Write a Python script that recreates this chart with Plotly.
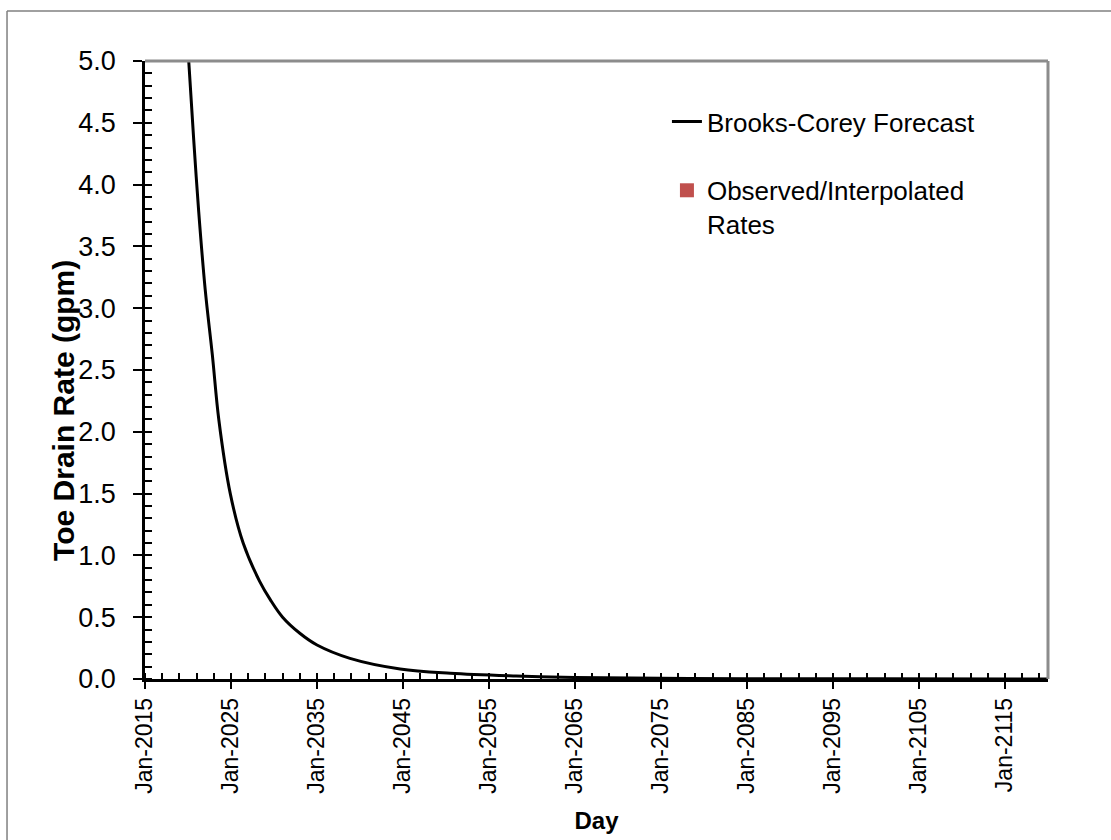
import plotly.graph_objects as go

# Brooks-Corey toe drain forecast (dates, gpm)
forecast_dates = [
    "2019-07-01", "2020-02-01", "2020-09-01", "2021-04-01", "2022-01-01",
    "2022-11-01", "2023-08-01", "2024-12-01", "2026-06-01", "2028-05-01",
    "2029-08-01", "2031-01-01", "2033-01-01", "2035-01-01", "2038-11-01",
    "2044-09-01", "2050-07-01", "2058-03-01", "2065-01-01", "2075-01-01",
    "2085-01-01", "2100-01-01", "2120-01-01",
]
forecast_rates = [
    5.75, 5.00, 4.36, 3.78, 3.15,
    2.62, 2.10, 1.50, 1.10, 0.79,
    0.64, 0.50, 0.37, 0.275, 0.167,
    0.081, 0.046, 0.024, 0.012, 0.006,
    0.003, 0.0015, 0.0008,
]

# Observed / interpolated rates (none fall inside the plotted window)
observed_dates = []
observed_rates = []

x_range = ["2015-01-01", "2120-01-01"]
y_range = [0, 5]

FONT = "Arial, Liberation Sans, sans-serif"

fig = go.Figure()
fig.add_trace(go.Scatter(
    x=forecast_dates, y=forecast_rates, mode="lines",
    line=dict(color="black", width=3, shape="spline", smoothing=1.0),
    name="Brooks-Corey Forecast", legendgroup="a",
))
fig.add_trace(go.Scatter(
    x=observed_dates or [None], y=observed_rates or [None], mode="markers",
    marker=dict(color="#C0504D", symbol="square", size=14),
    name="Observed/Interpolated<br>Rates", legendgroup="b",
))

fig.update_layout(
    width=1111, height=840,
    margin=dict(l=145, r=63, t=61, b=161, autoexpand=False),
    paper_bgcolor="white", plot_bgcolor="white",
    font=dict(family=FONT, color="black", size=24),
    showlegend=True,
    legend=dict(
        x=0.578, y=0.940, xanchor="left", yanchor="top",
        font=dict(family=FONT, size=26, color="black"),
        traceorder="grouped", tracegroupgap=32, valign="top",
        bgcolor="rgba(0,0,0,0)",
    ),
    xaxis=dict(
        type="date", range=x_range, automargin=False,
        tick0="2015-01-01", dtick="M120", tickformat="%b-%Y", tickangle=-90,
        ticks="outside", ticklen=7, tickwidth=1.5, tickcolor="black",
        minor=dict(ticks="inside", dtick="M24", tick0="2015-01-01", ticklen=6,
                   tickwidth=1.5, tickcolor="black", showgrid=False),
        showline=True, linecolor="black", linewidth=2.5,
        showgrid=False, zeroline=False,
        tickfont=dict(family=FONT, size=23),
        title=dict(text="<b>Day</b>", font=dict(family=FONT, size=24), standoff=20),
    ),
    yaxis=dict(
        range=y_range, dtick=0.5, tick0=0, tickformat=".1f", automargin=False,
        ticks="outside", ticklen=9, tickwidth=1.5, tickcolor="black",
        minor=dict(ticks="inside", dtick=0.1, ticklen=7, tickwidth=1.5,
                   tickcolor="black", showgrid=False),
        showline=True, linecolor="black", linewidth=2.5,
        showgrid=False, zeroline=False,
        tickfont=dict(family=FONT, size=27),
        ticklabelstandoff=12,
    ),
    annotations=[
        dict(text="<b>Toe Drain Rate (gpm)</b>", xref="paper", yref="paper",
             x=-0.0896, y=0.434, xanchor="center", yanchor="middle",
             textangle=-90, showarrow=False,
             font=dict(family=FONT, size=30, color="black")),
    ],
    shapes=[
        # gray top and right edges of the plot area
        dict(type="line", xref="paper", yref="paper", x0=0, x1=1, y0=1, y1=1,
             line=dict(color="#8c8c8c", width=3)),
        dict(type="line", xref="paper", yref="paper", x0=1, x1=1, y0=0, y1=1,
             line=dict(color="#8c8c8c", width=3)),
        # outer chart frame
        dict(type="line", xref="paper", yref="paper", x0=-0.1528, x1=1.1, y0=1.0809, y1=1.0809,
             line=dict(color="#808080", width=1.5)),
        dict(type="line", xref="paper", yref="paper", x0=-0.1528, x1=-0.1528, y0=-0.3, y1=1.0809,
             line=dict(color="#808080", width=1.5)),
    ],
)

fig.write_html("out.html")
